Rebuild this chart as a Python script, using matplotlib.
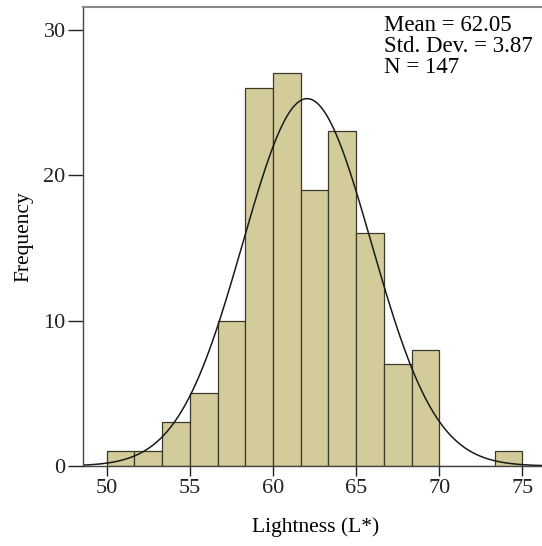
import numpy as np
import matplotlib
matplotlib.use('Agg')
import matplotlib.pyplot as plt

# histogram of L* values (bin width 5/3)
bin_left = [50.0, 51.667, 53.333, 55.0, 56.667, 58.333, 60.0, 61.667,
            63.333, 65.0, 66.667, 68.333, 70.0, 71.667, 73.333]
counts = [1, 1, 3, 5, 10, 26, 27, 19, 23, 16, 7, 8, 0, 0, 1]
bin_width = 5 / 3
mean = 62.05
std = 3.87
n = 147

plt.rcParams['font.family'] = ['Liberation Serif', 'DejaVu Serif']

fig = plt.figure(figsize=(5.42, 5.46), dpi=100)
ax = fig.add_axes([0.153, 0.1465, 0.86, 0.8405])

ax.bar(bin_left, counts, width=bin_width, align='edge',
       color='#d3cc9a', edgecolor='#3a3a2a', linewidth=0.9)

xs = np.linspace(48.5, 77, 400)
ys = n * bin_width * np.exp(-0.5 * ((xs - mean) / std) ** 2) / (std * np.sqrt(2 * np.pi))
ax.plot(xs, ys, color='#1a1a1a', linewidth=1.1)

ax.set_xlim(48.57, 76.6)
ax.set_ylim(0, 31.55)
ax.set_xticks([50, 55, 60, 65, 70, 75])
ax.set_yticks([0, 10, 20, 30])
ax.tick_params(direction='out', width=1, labelsize=16, colors='#222222')
ax.tick_params(axis='y', length=11, pad=1.5)
ax.tick_params(axis='x', length=7.5, pad=2)
for s in ['left', 'bottom']:
    ax.spines[s].set_color('#444444')
    ax.spines[s].set_linewidth(1)
ax.spines['top'].set_color('#888888')
ax.spines['top'].set_linewidth(1.5)
ax.spines['right'].set_visible(False)

ax.set_xlabel('Lightness (L*)', fontsize=15.5, labelpad=14)
ax.set_ylabel('Frequency', fontsize=15.5, labelpad=7)

ax.text(0.645, 0.982, f'Mean = {mean:.2f}\nStd. Dev. = {std:.2f}\nN = {n}',
        transform=ax.transAxes, ha='left', va='top', fontsize=16.5,
        linespacing=0.98)

fig.savefig('out.png', dpi=100)
